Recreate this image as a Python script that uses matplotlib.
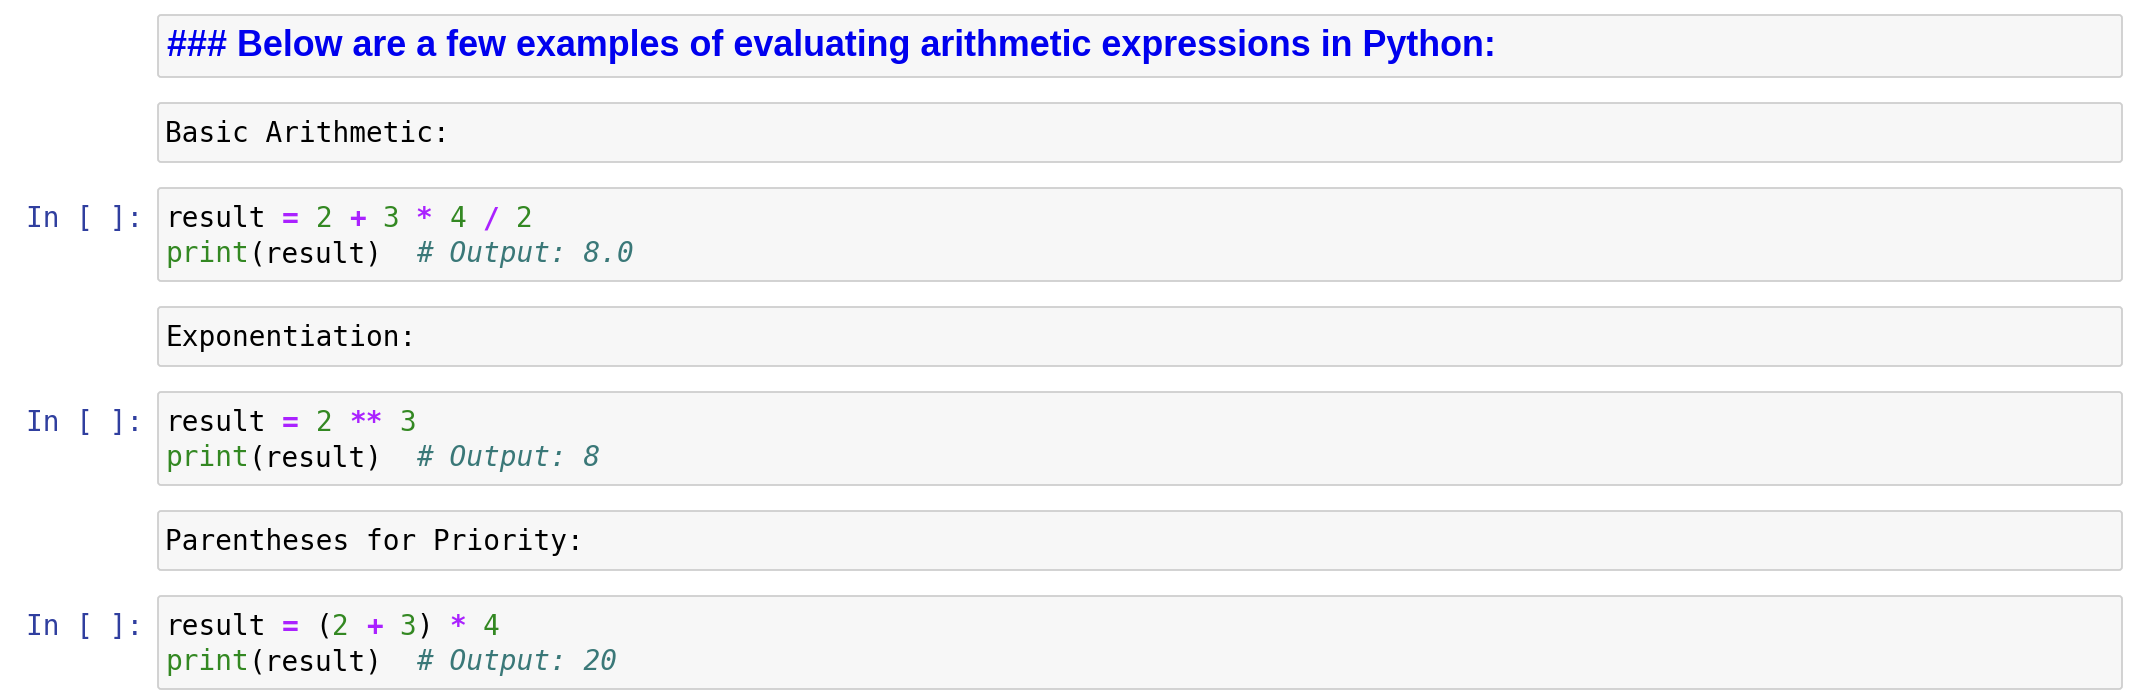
import matplotlib
matplotlib.use("Agg")
import matplotlib.pyplot as plt
import matplotlib.patches as patches

# notebook content
heading = "### Below are a few examples of evaluating arithmetic expressions in Python:"
md_labels = ["Basic Arithmetic:", "Exponentiation:", "Parentheses for Priority:"]
prompt = "In [ ]:"

# each code cell: lines of (token, style)
code_cells = [
    [[("result", "name"), (" ", "name"), ("=", "op"), (" ", "name"), ("2", "num"),
      (" ", "name"), ("+", "op"), (" ", "name"), ("3", "num"), (" ", "name"),
      ("*", "op"), (" ", "name"), ("4", "num"), (" ", "name"), ("/", "op"),
      (" ", "name"), ("2", "num")],
     [("print", "builtin"), ("(result)", "name"), ("  ", "name"),
      ("# Output: 8.0", "comment")]],
    [[("result", "name"), (" ", "name"), ("=", "op"), (" ", "name"), ("2", "num"),
      (" ", "name"), ("**", "op"), (" ", "name"), ("3", "num")],
     [("print", "builtin"), ("(result)", "name"), ("  ", "name"),
      ("# Output: 8", "comment")]],
    [[("result", "name"), (" ", "name"), ("=", "op"), (" ", "name"), ("(", "name"),
      ("2", "num"), (" ", "name"), ("+", "op"), (" ", "name"), ("3", "num"),
      (")", "name"), (" ", "name"), ("*", "op"), (" ", "name"), ("4", "num")],
     [("print", "builtin"), ("(result)", "name"), ("  ", "name"),
      ("# Output: 20", "comment")]],
]

styles = {
    "name": dict(color="#000000"),
    "op": dict(color="#aa22ff", fontweight="bold"),
    "num": dict(color="#338822"),
    "builtin": dict(color="#338822"),
    "comment": dict(color="#3a7878", fontstyle="italic"),
}

W, H = 2142, 698
fig = plt.figure(figsize=(W / 100, H / 100), dpi=100)
ax = fig.add_axes([0, 0, 1, 1])
ax.set_xlim(0, W)
ax.set_ylim(H, 0)
ax.axis("off")

box_left, box_right = 158, 2122
text_x = 165
mono = "DejaVu Sans Mono"
mono_pt = 20
char_w = 0.602 * mono_pt * 100 / 72
line_h = 35
gap = 26


def cell_box(top, height):
    ax.add_patch(patches.FancyBboxPatch(
        (box_left, top), box_right - box_left, height,
        boxstyle="round,pad=0,rounding_size=3",
        facecolor="#f7f7f7", edgecolor="#cfcfcf", linewidth=1.3))


y = 15
# heading cell
cell_box(y, 62)
t = ax.text(text_x + 2, y + 41, heading, family="Liberation Sans",
            fontweight="bold", fontsize=22, color="#0000ee", va="baseline")
fig.canvas.draw()
w = t.get_window_extent().width
t.set_fontsize(22 * 1328 / w)
y += 62 + gap

for label, code in zip(md_labels, code_cells):
    cell_box(y, 59)
    ax.text(text_x, y + 39, label, family=mono, fontsize=mono_pt,
            color="#000000", va="baseline")
    y += 59 + gap

    ch = 93
    cell_box(y, ch)
    base = y + 39
    ax.text(26, base, prompt, family=mono, fontsize=mono_pt,
            color="#303f9f", va="baseline")
    for i, line in enumerate(code):
        col = 0
        for tok, st in line:
            if tok.strip():
                ax.text(text_x + col * char_w, base + i * line_h, tok,
                        family=mono, fontsize=mono_pt, va="baseline",
                        **styles[st])
            col += len(tok)
    y += ch + gap

fig.savefig("out.png", dpi=100)
